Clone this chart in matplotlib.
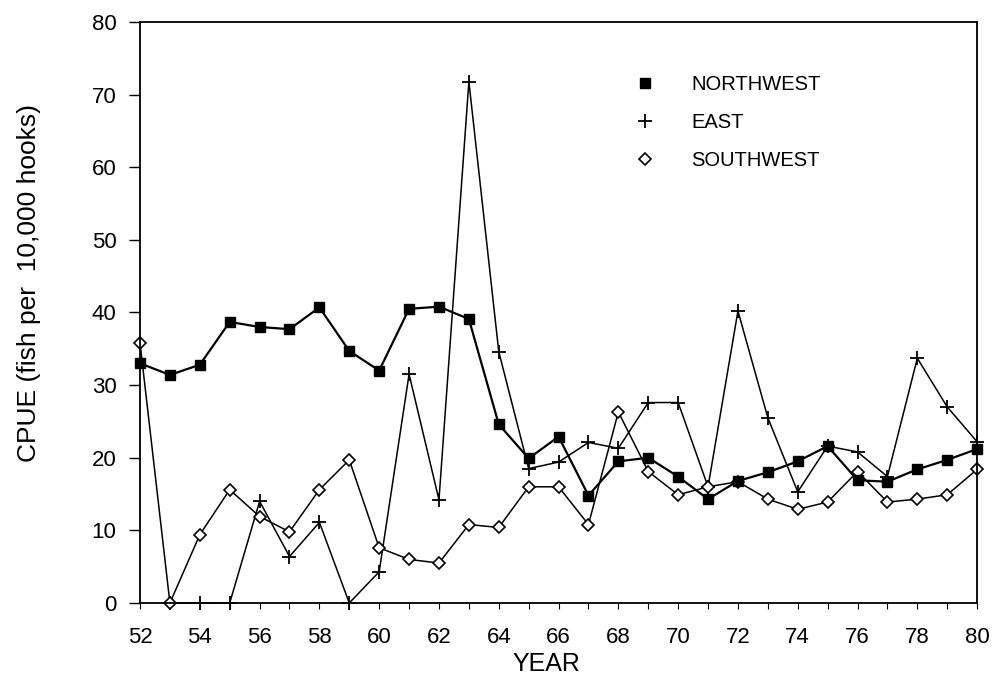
import numpy as np
import matplotlib
matplotlib.use('Agg')
import matplotlib.pyplot as plt

plt.rcParams['font.family'] = ['Liberation Sans', 'DejaVu Sans']

# dados
anos = np.arange(52, 81)
northwest = [33.0, 31.4, 32.8, 38.7, 38.0, 37.7, 40.7, 34.7, 32.0, 40.5,
             40.8, 39.1, 24.6, 19.9, 22.9, 14.8, 19.5, 20.0, 17.4, 14.3,
             16.8, 18.0, 19.5, 21.6, 16.9, 16.7, 18.4, 19.7, 21.2]
east = [np.nan, 0.0, 0.0, 0.0, 14.0, 6.4, 11.1, 0.0, 4.3, 31.5,
        14.2, 71.8, 34.6, 18.5, 19.4, 22.1, 21.3, 27.6, 27.6, 16.0,
        40.2, 25.5, 15.3, 21.6, 20.8, 17.4, 33.7, 27.0, 22.2]
southwest = [35.8, 0.0, 9.4, 15.6, 11.9, 9.8, 15.6, 19.7, 7.6, 6.0,
             5.5, 10.8, 10.4, 16.0, 16.0, 10.8, 26.3, 18.1, 14.9, 16.0,
             16.7, 14.3, 12.9, 13.9, 18.1, 13.9, 14.3, 14.9, 18.4]
rotulos = ['NORTHWEST', 'EAST', 'SOUTHWEST']

fig = plt.figure(figsize=(9.93, 6.86), dpi=100)
ax = fig.add_axes([0.141, 0.121, 0.843, 0.847])

l1, = ax.plot(anos, northwest, color='black', lw=1.6, marker='s', ms=7.5,
              mfc='black', mec='black', clip_on=False, zorder=3)
l2, = ax.plot(anos, east, color='black', lw=1.1, marker='+', ms=10,
              mew=1.3, clip_on=False, zorder=2)
l3, = ax.plot(anos, southwest, color='black', lw=1.1, marker='D', ms=6,
              mfc='white', mec='black', mew=1.2, clip_on=False, zorder=2)

ax.set_xlim(52, 80)
ax.set_ylim(0, 80)
ax.set_yticks(np.arange(0, 81, 10))
ax.set_xticks(np.arange(52, 81, 2))
ax.set_xticks(anos, minor=True)

for s in ax.spines.values():
    s.set_linewidth(1.3)

ax.tick_params(axis='y', direction='out', length=8, width=1.0, pad=9, labelsize=16)
ax.tick_params(axis='x', which='major', direction='out', length=4, width=0.8, pad=13, labelsize=16)
ax.tick_params(axis='x', which='minor', direction='out', length=4, width=0.8)

ax.set_xlabel('YEAR', fontsize=18)
ax.xaxis.set_label_coords(0.485, -0.085)
ax.set_ylabel('CPUE (fish per  10,000 hooks)', fontsize=19)
ax.yaxis.set_label_coords(-0.118, 0.55)

leg = ax.legend([l1, l2, l3], rotulos, loc='upper left', frameon=False,
                bbox_to_anchor=(645 / 993, 1 - 75 / 686), bbox_transform=fig.transFigure,
                handlelength=0, handletextpad=2.3, labelspacing=0.95,
                borderpad=0, borderaxespad=0, fontsize=14.5)

plt.savefig('out.png', dpi=100)
